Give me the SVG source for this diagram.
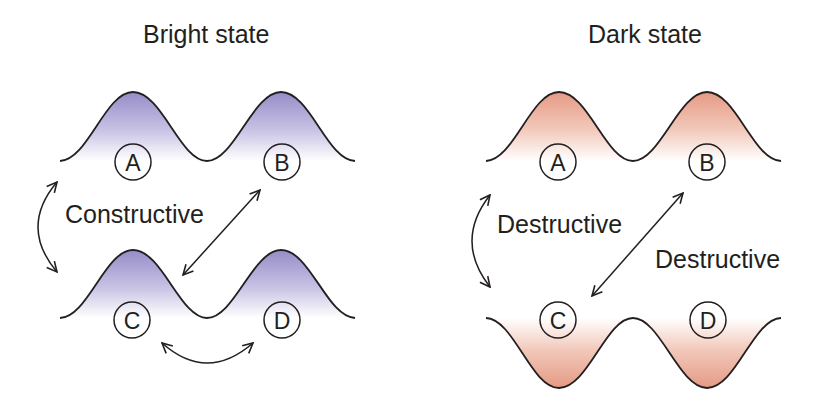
<svg xmlns="http://www.w3.org/2000/svg" width="833" height="403" viewBox="0 0 833 403">
<defs>
<linearGradient id="purpleTop" x1="0" y1="92" x2="0" y2="161" gradientUnits="userSpaceOnUse">
<stop offset="0" stop-color="#968cc8"/><stop offset="0.55" stop-color="#c8c2e4"/><stop offset="1" stop-color="#ffffff"/>
</linearGradient>
<linearGradient id="purpleBot" x1="0" y1="250" x2="0" y2="318" gradientUnits="userSpaceOnUse">
<stop offset="0" stop-color="#968cc8"/><stop offset="0.55" stop-color="#c8c2e4"/><stop offset="1" stop-color="#ffffff"/>
</linearGradient>
<linearGradient id="salmonTop" x1="0" y1="92" x2="0" y2="161" gradientUnits="userSpaceOnUse">
<stop offset="0" stop-color="#e59a84"/><stop offset="0.55" stop-color="#f2c9bb"/><stop offset="1" stop-color="#ffffff"/>
</linearGradient>
<linearGradient id="salmonBot" x1="0" y1="318" x2="0" y2="388" gradientUnits="userSpaceOnUse">
<stop offset="0" stop-color="#ffffff"/><stop offset="0.45" stop-color="#f2c9bb"/><stop offset="1" stop-color="#e59a84"/>
</linearGradient>
<marker id="ah" viewBox="0 0 12 12" refX="11" refY="6" markerWidth="12" markerHeight="12" markerUnits="userSpaceOnUse" orient="auto-start-reverse">
<path d="M1,1 L11,6 L1,11" fill="none" stroke="#231f20" stroke-width="1.6"/>
</marker>
</defs>
<style>
.wave{fill:none;stroke:#231f20;stroke-width:1.8}
.circ{fill:none;stroke:#231f20;stroke-width:1.5}
.lbl{font-family:"Liberation Sans",Arial,sans-serif;font-size:23px;fill:#231f20;text-anchor:middle}
.txt{font-family:"Liberation Sans",Arial,sans-serif;font-size:25px;fill:#231f20}
.arr{fill:none;stroke:#231f20;stroke-width:1.5;marker-start:url(#ah);marker-end:url(#ah)}
</style>
<rect width="833" height="403" fill="#ffffff"/>
<text class="txt" x="143" y="43">Bright state</text>
<text class="txt" x="588" y="43">Dark state</text>

<g id="wave-bright-top">
<path d="M60,161 C88,160 105,92 133,92 C162,92 180,161 207,161 C234,161 253,92 281,92 C310,92 327,160 355,161 Z" fill="url(#purpleTop)" stroke="none"/>
<path class="wave" d="M60,161 C88,160 105,92 133,92 C162,92 180,161 207,161 C234,161 253,92 281,92 C310,92 327,160 355,161"/>
</g>
<g id="wave-bright-bottom">
<path d="M60,318 C88,317 105,250 133,250 C162,250 180,318 207,318 C234,318 253,250 281,250 C310,250 327,317 355,318 Z" fill="url(#purpleBot)" stroke="none"/>
<path class="wave" d="M60,318 C88,317 105,250 133,250 C162,250 180,318 207,318 C234,318 253,250 281,250 C310,250 327,317 355,318"/>
</g>
<g id="wave-dark-top">
<path d="M486,161 C514,160 531,92 559,92 C588,92 606,161 633,161 C660,161 679,92 707,92 C736,92 753,160 781,161 Z" fill="url(#salmonTop)" stroke="none"/>
<path class="wave" d="M486,161 C514,160 531,92 559,92 C588,92 606,161 633,161 C660,161 679,92 707,92 C736,92 753,160 781,161"/>
</g>
<g id="wave-dark-bottom">
<path d="M486,318 C514,319 531,388 559,388 C588,388 606,318 633,318 C660,318 679,388 707,388 C736,388 753,319 781,318 Z" fill="url(#salmonBot)" stroke="none"/>
<path class="wave" d="M486,318 C514,319 531,388 559,388 C588,388 606,318 633,318 C660,318 679,388 707,388 C736,388 753,319 781,318"/>
</g>

<g id="node-bright-A"><circle class="circ" cx="133" cy="162" r="18"/><text class="lbl" x="133" y="170.5">A</text></g>
<g id="node-bright-B"><circle class="circ" cx="282" cy="162" r="18"/><text class="lbl" x="282" y="170.5">B</text></g>
<g id="node-bright-C"><circle class="circ" cx="132" cy="320" r="18"/><text class="lbl" x="132" y="328.5">C</text></g>
<g id="node-bright-D"><circle class="circ" cx="282" cy="320" r="18"/><text class="lbl" x="282" y="328.5">D</text></g>
<g id="node-dark-A"><circle class="circ" cx="558" cy="162" r="18"/><text class="lbl" x="558" y="170.5">A</text></g>
<g id="node-dark-B"><circle class="circ" cx="707" cy="162" r="18"/><text class="lbl" x="707" y="170.5">B</text></g>
<g id="node-dark-C"><circle class="circ" cx="558" cy="320" r="18"/><text class="lbl" x="558" y="328.5">C</text></g>
<g id="node-dark-D"><circle class="circ" cx="708" cy="320" r="18"/><text class="lbl" x="708" y="328.5">D</text></g>

<g id="connectors">
<path class="arr" d="M57,182 Q19,227 57,272"/>
<path class="arr" d="M260,190 L183,275"/>
<path class="arr" d="M162,343 Q207,383 253,343"/>
<path class="arr" d="M490,195 Q454,241 490,287"/>
<path class="arr" d="M683,193 L592,296"/>
</g>
<text class="txt" x="65" y="223">Constructive</text>
<text class="txt" x="497" y="233">Destructive</text>
<text class="txt" x="655" y="268">Destructive</text>
</svg>
